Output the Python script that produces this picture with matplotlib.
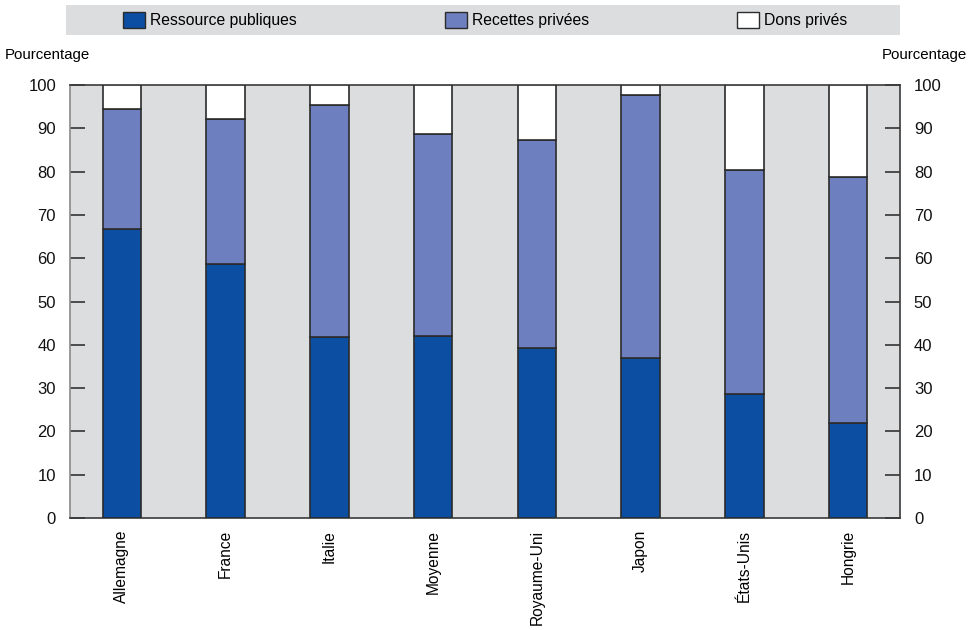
import matplotlib
matplotlib.use("Agg")
import matplotlib.pyplot as plt
from matplotlib.patches import Rectangle
import numpy as np

plt.rcParams['font.family'] = ['Liberation Sans', 'DejaVu Sans']

countries = ["Allemagne", "France", "Italie", "Moyenne", "Royaume-Uni",
             "Japon", "États-Unis", "Hongrie"]
ressources_publiques = [66.7, 58.6, 41.7, 42.0, 39.3, 36.9, 28.7, 22.0]
recettes_privees = [27.8, 33.5, 53.6, 46.6, 47.9, 60.7, 51.6, 56.7]
dons_prives = [5.5, 7.9, 4.7, 11.4, 12.8, 2.4, 19.7, 21.3]

series_names = ["Ressource publiques", "Recettes privées", "Dons privés"]
series_colors = ["#0b4ea2", "#6d7fbf", "#ffffff"]
y_ticks = [0, 10, 20, 30, 40, 50, 60, 70, 80, 90, 100]

bg = "#dcdddf"
edge = "#2b2b2b"

fig = plt.figure(figsize=(9.76, 6.3), dpi=100)
ax = fig.add_axes([70 / 976, 1 - 518 / 630, 830 / 976, 433 / 630])
ax.set_facecolor(bg)

x = np.arange(len(countries))
width = 0.37
bottom = np.zeros(len(countries))
for vals, col in zip([ressources_publiques, recettes_privees, dons_prives], series_colors):
    ax.bar(x, vals, width, bottom=bottom, color=col, edgecolor=edge,
           linewidth=1.2, zorder=3)
    bottom += np.array(vals)

ax.set_xlim(-0.5, len(countries) - 0.5)
ax.set_ylim(0, 100)
ax.set_yticks(y_ticks)
ax.set_xticks(x)
ax.set_xticklabels(countries, rotation=90, fontsize=11.2)
ax.tick_params(axis='x', length=0, pad=8.5)
ax.tick_params(axis='y', direction='in', length=11, width=1.2, color="#333333",
               labelsize=12, pad=10, left=True, right=True,
               labelleft=True, labelright=True)
for lbl in ax.get_yticklabels():
    lbl.set_color("#111111")
for side, sp in ax.spines.items():
    sp.set_color("#3a3a3a")
    sp.set_linewidth(1.2)
ax.spines['left'].set_color("#8a8a8a")

fig.text(5 / 976, 1 - 55 / 630, "Pourcentage", fontsize=10.8, ha='left', va='center')
fig.text(967 / 976, 1 - 55 / 630, "Pourcentage", fontsize=10.8, ha='right', va='center')

# legend strip
fig.patches.append(Rectangle((66 / 976, 1 - 35 / 630), 834 / 976, 30 / 630,
                             transform=fig.transFigure, facecolor=bg,
                             edgecolor='none', zorder=0))
legend_x = [123, 445, 737]
for px, name, col in zip(legend_x, series_names, series_colors):
    fig.patches.append(Rectangle((px / 976, 1 - 28 / 630), 22 / 976, 16 / 630,
                                 transform=fig.transFigure, facecolor=col,
                                 edgecolor=edge, linewidth=1.0, zorder=1))
    fig.text((px + 27) / 976, 1 - 20.5 / 630, name, fontsize=11.3,
             ha='left', va='center')

fig.savefig("out.png", dpi=100)
